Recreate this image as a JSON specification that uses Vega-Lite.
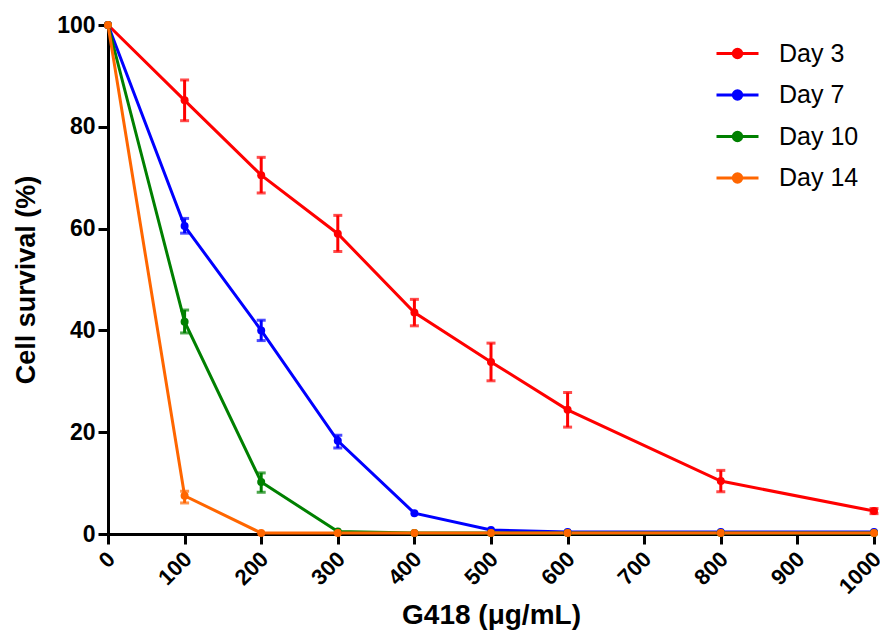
{
  "$schema": "https://vega.github.io/schema/vega-lite/v6.json",
  "width": 766,
  "height": 509,
  "autosize": {"type": "none"},
  "padding": {"left": 108, "top": 25, "right": 6, "bottom": 103},
  "background": "white",
  "config": {
    "view": {"stroke": null},
    "font": "Liberation Sans"
  },
  "datasets": {
    "pts": [
      {"day": "Day 3", "conc": 0, "surv": 100},
      {"day": "Day 3", "conc": 100, "surv": 85.2},
      {"day": "Day 3", "conc": 200, "surv": 70.5},
      {"day": "Day 3", "conc": 300, "surv": 59},
      {"day": "Day 3", "conc": 400, "surv": 43.5},
      {"day": "Day 3", "conc": 500, "surv": 33.8},
      {"day": "Day 3", "conc": 600, "surv": 24.4},
      {"day": "Day 3", "conc": 800, "surv": 10.4},
      {"day": "Day 3", "conc": 1000, "surv": 4.5},
      {"day": "Day 7", "conc": 0, "surv": 100},
      {"day": "Day 7", "conc": 100, "surv": 60.5},
      {"day": "Day 7", "conc": 200, "surv": 40},
      {"day": "Day 7", "conc": 300, "surv": 18.3},
      {"day": "Day 7", "conc": 400, "surv": 4.1},
      {"day": "Day 7", "conc": 500, "surv": 0.8},
      {"day": "Day 7", "conc": 600, "surv": 0.4},
      {"day": "Day 7", "conc": 800, "surv": 0.4},
      {"day": "Day 7", "conc": 1000, "surv": 0.4},
      {"day": "Day 10", "conc": 0, "surv": 100},
      {"day": "Day 10", "conc": 100, "surv": 41.7},
      {"day": "Day 10", "conc": 200, "surv": 10.2},
      {"day": "Day 10", "conc": 300, "surv": 0.5},
      {"day": "Day 10", "conc": 400, "surv": 0.2},
      {"day": "Day 10", "conc": 500, "surv": 0.2},
      {"day": "Day 10", "conc": 600, "surv": 0.2},
      {"day": "Day 10", "conc": 800, "surv": 0.2},
      {"day": "Day 10", "conc": 1000, "surv": 0.2},
      {"day": "Day 14", "conc": 0, "surv": 100},
      {"day": "Day 14", "conc": 100, "surv": 7.5},
      {"day": "Day 14", "conc": 200, "surv": 0.2},
      {"day": "Day 14", "conc": 300, "surv": 0.2},
      {"day": "Day 14", "conc": 400, "surv": 0.2},
      {"day": "Day 14", "conc": 500, "surv": 0.2},
      {"day": "Day 14", "conc": 600, "surv": 0.2},
      {"day": "Day 14", "conc": 800, "surv": 0.2},
      {"day": "Day 14", "conc": 1000, "surv": 0.2}
    ],
    "err": [
      {"day": "Day 3", "conc": 100, "lo": 81.2, "hi": 89.2},
      {"day": "Day 3", "conc": 200, "lo": 67, "hi": 74},
      {"day": "Day 3", "conc": 300, "lo": 55.5, "hi": 62.6},
      {"day": "Day 3", "conc": 400, "lo": 40.9, "hi": 46.1},
      {"day": "Day 3", "conc": 500, "lo": 30.1, "hi": 37.5},
      {"day": "Day 3", "conc": 600, "lo": 21, "hi": 27.8},
      {"day": "Day 3", "conc": 800, "lo": 8.3, "hi": 12.5},
      {"day": "Day 3", "conc": 1000, "lo": 4, "hi": 5},
      {"day": "Day 7", "conc": 100, "lo": 59.1, "hi": 62},
      {"day": "Day 7", "conc": 200, "lo": 38, "hi": 42},
      {"day": "Day 7", "conc": 300, "lo": 16.9, "hi": 19.4},
      {"day": "Day 10", "conc": 100, "lo": 39.5, "hi": 44},
      {"day": "Day 10", "conc": 200, "lo": 8.2, "hi": 12},
      {"day": "Day 14", "conc": 100, "lo": 6.1, "hi": 8.4}
    ]
  },
  "layer": [
    {
      "data": {"name": "err"},
      "mark": {"type": "errorbar", "thickness": 3, "ticks": {"size": 9, "thickness": 3}},
      "encoding": {
        "x": {"field": "conc", "type": "quantitative", "title": "G418 (μg/mL)"},
        "y": {"field": "lo", "type": "quantitative", "title": "Cell survival  (%)"},
        "y2": {"field": "hi"},
        "color": {
          "field": "day", "type": "nominal",
          "sort": ["Day 3", "Day 7", "Day 10", "Day 14"],
          "scale": {"domain": ["Day 3", "Day 7", "Day 10", "Day 14"], "range": ["#ff0000", "#0000ff", "#008000", "#ff6600"]},
          "legend": {
            "title": null,
            "orient": "none",
            "legendX": 607,
            "legendY": 6,
            "padding": 0,
            "symbolType": "M-1,0H1M-0.2,0A0.2,0.2 0 1,0 0.2,0A0.2,0.2 0 1,0 -0.2,0Z",
            "symbolSize": 1764,
            "symbolStrokeWidth": 3,
            "symbolOpacity": 1,
            "rowPadding": 5.5,
            "labelOffset": 19,
            "labelFont": "Liberation Sans",
            "labelFontSize": 25,
            "labelColor": "black"
          }
        }
      }
    },
    {
      "data": {"name": "pts"},
      "mark": {"type": "line", "strokeWidth": 3, "point": {"filled": true, "size": 64}},
      "encoding": {
        "x": {
          "field": "conc", "type": "quantitative",
          "scale": {"domain": [0, 1000], "nice": false},
          "title": "G418 (μg/mL)",
          "axis": {
            "values": [0, 100, 200, 300, 400, 500, 600, 700, 800, 900, 1000], "format": "d",
            "labelAngle": -45, "labelPadding": 4, "labelOffset": -4, "titlePadding": 4,
            "grid": false, "domainColor": "black", "domainWidth": 3, "tickColor": "black", "tickWidth": 3, "tickSize": 10,
            "labelFont": "Liberation Sans", "labelFontSize": 22, "labelFontWeight": "bold", "labelColor": "black",
            "titleFont": "Liberation Sans", "titleFontSize": 28, "titleFontWeight": "bold", "titleColor": "black"
          }
        },
        "y": {
          "field": "surv", "type": "quantitative",
          "scale": {"domain": [0, 100], "nice": false},
          "title": "Cell survival  (%)",
          "axis": {
            "values": [0, 20, 40, 60, 80, 100], "labelPadding": 3, "titlePadding": 16,
            "grid": false, "domainColor": "black", "domainWidth": 3, "tickColor": "black", "tickWidth": 3, "tickSize": 10,
            "labelFont": "Liberation Sans", "labelFontSize": 23, "labelFontWeight": "bold", "labelColor": "black",
            "titleFont": "Liberation Sans", "titleFontSize": 27, "titleFontWeight": "bold", "titleColor": "black"
          }
        },
        "color": {
          "field": "day", "type": "nominal",
          "sort": ["Day 3", "Day 7", "Day 10", "Day 14"],
          "scale": {"domain": ["Day 3", "Day 7", "Day 10", "Day 14"], "range": ["#ff0000", "#0000ff", "#008000", "#ff6600"]},
          "legend": {
            "title": null,
            "orient": "none",
            "legendX": 607,
            "legendY": 6,
            "padding": 0,
            "symbolType": "M-1,0H1M-0.2,0A0.2,0.2 0 1,0 0.2,0A0.2,0.2 0 1,0 -0.2,0Z",
            "symbolSize": 1764,
            "symbolStrokeWidth": 3,
            "symbolOpacity": 1,
            "rowPadding": 5.5,
            "labelOffset": 19,
            "labelFont": "Liberation Sans",
            "labelFontSize": 25,
            "labelColor": "black"
          }
        }
      }
    }
  ]
}
